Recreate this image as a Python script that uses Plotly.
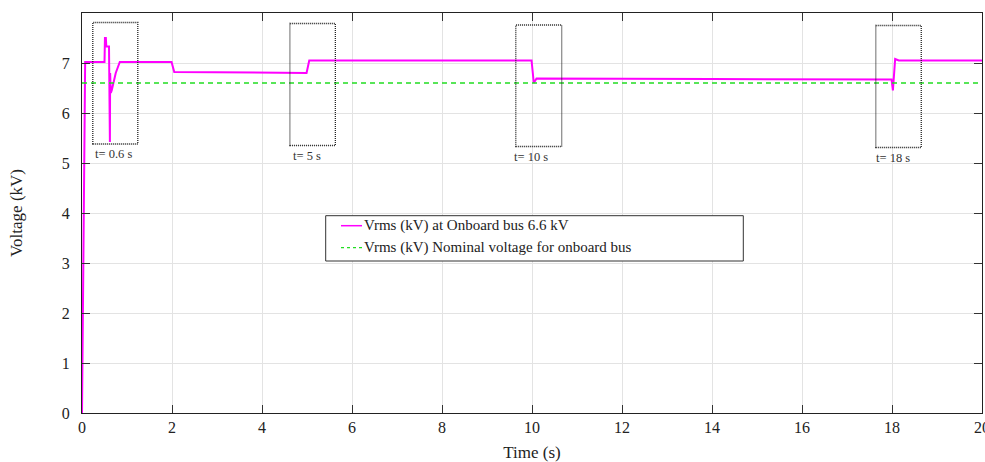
import plotly.graph_objects as go

# Onboard bus RMS voltage (kV) against simulation time (s)
time_s = [0.0, 0.02, 0.05, 0.07, 0.50, 0.51, 0.53, 0.54, 0.60, 0.62, 0.625, 0.64,
          0.66, 0.70, 0.75, 0.84, 1.99, 2.05, 3.5, 4.99, 5.05, 9.99, 10.04, 10.1,
          14.0, 17.99, 18.02, 18.07, 18.15, 20.0]
vrms_kv = [0.0, 2.5, 5.5, 7.02, 7.02, 7.50, 7.50, 7.33, 7.33, 5.42, 6.80, 6.40,
           6.45, 6.60, 6.80, 7.02, 7.02, 6.82, 6.81, 6.80, 7.05, 7.05, 6.60, 6.69,
           6.68, 6.67, 6.45, 7.08, 7.05, 7.05]

nominal_kv = 6.6
time_range = [0, 20]

series_names = ["Vrms (kV) at Onboard bus 6.6 kV",
                "Vrms (kV) Nominal voltage for onboard bus"]

# Switching events: (label, centre time, box start, box end)
events = ["t= 0.6 s", "t= 5 s", "t= 10 s", "t= 18 s"]
event_label_t = [0.69, 4.99, 9.98, 18.02]
box_t0 = [0.24, 4.62, 9.64, 17.64]
box_t1 = [1.24, 5.63, 10.66, 18.65]
box_v0 = [5.38, 5.35, 5.33, 5.31]
box_v1 = [7.81, 7.79, 7.76, 7.75]

x_ticks = list(range(0, 21, 2))
y_ticks = list(range(0, 8))

FONT = "Liberation Serif, Times New Roman, serif"
MAGENTA = "#ff00ff"
GREEN = "#22dd22"

fig = go.Figure()
fig.add_trace(go.Scatter(
    x=time_s, y=vrms_kv, mode="lines", name=series_names[0],
    line=dict(color=MAGENTA, width=2),
))
fig.add_trace(go.Scatter(
    x=time_range, y=[nominal_kv, nominal_kv], mode="lines", name=series_names[1],
    line=dict(color=GREEN, width=1.6, dash="5px,4px"),
))

shapes = []
annotations = []
for lab, tl, a, b, v0, v1 in zip(events, event_label_t, box_t0, box_t1, box_v0, box_v1):
    shapes.append(dict(type="rect", xref="x", yref="y", x0=a, x1=b, y0=v0, y1=v1,
                       line=dict(color="#222222", width=1.3, dash="1px,1px"),
                       layer="above"))
    annotations.append(dict(x=tl, y=v0 - 0.02, xref="x", yref="y", text=lab,
                            showarrow=False, yanchor="top", xanchor="center",
                            font=dict(family=FONT, size=12.5, color="#333333")))

# Legend drawn in plot-area pixel fractions (plot area 900 x 400 px)
def px(xp):
    return (xp - 82) / 900


def py(yp):
    return (413 - yp) / 400


shapes.append(dict(type="rect", xref="paper", yref="paper",
                   x0=px(325.7), x1=px(743.3), y0=py(261), y1=py(215.7),
                   line=dict(color="#333333", width=1), fillcolor="white",
                   layer="above"))
legend_rows = [225.7, 247.7]
legend_styles = [dict(color=MAGENTA, width=1.5), dict(color=GREEN, width=1.3, dash="3px,3px")]
for name, row, style in zip(series_names, legend_rows, legend_styles):
    shapes.append(dict(type="line", xref="paper", yref="paper",
                       x0=px(341), x1=px(362), y0=py(row), y1=py(row),
                       line=style, layer="above"))
    annotations.append(dict(x=px(362), y=py(row), xref="paper", yref="paper",
                            text=name, showarrow=False, xanchor="left", yanchor="middle",
                            font=dict(family=FONT, size=15, color="#222222")))

axis_common = dict(
    showline=True, linecolor="#222222", linewidth=1.2, mirror="ticks",
    ticks="inside", ticklen=8, tickcolor="#333333", tickwidth=1.2,
    showgrid=True, gridcolor="#e3e3e3", gridwidth=1, zeroline=False,
    tickfont=dict(family=FONT, size=16, color="#222222"),
    ticklabeloverflow="allow", automargin=False,
)

fig.update_layout(
    width=985, height=462,
    margin=dict(l=82, r=3, t=13, b=49),
    paper_bgcolor="white", plot_bgcolor="white",
    font=dict(family=FONT, size=14, color="#222222"),
    xaxis=dict(range=time_range, tickvals=x_ticks,
               title=dict(text="Time (s)", font=dict(family=FONT, size=17), standoff=10),
               **axis_common),
    yaxis=dict(range=[0, 8], tickvals=y_ticks, ticklabelstandoff=8,
               title=dict(text="Voltage (kV)", font=dict(family=FONT, size=17), standoff=34),
               **axis_common),
    showlegend=False,
    shapes=shapes,
    annotations=annotations,
)

fig.write_html("out.html", config={"displayModeBar": False})
